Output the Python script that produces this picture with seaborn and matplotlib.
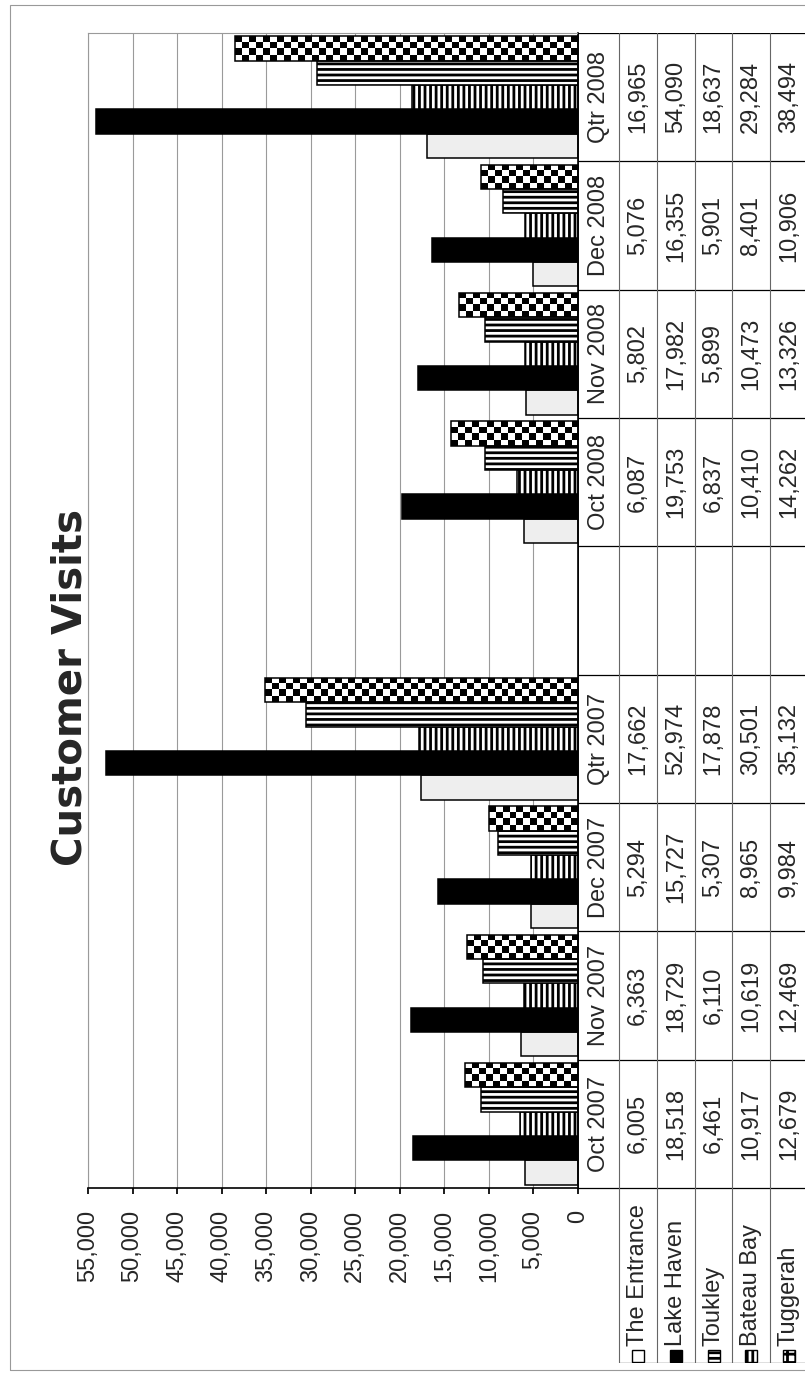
import numpy as np
import pandas as pd
import matplotlib
matplotlib.use("Agg")
import matplotlib.pyplot as plt
import seaborn as sns
from matplotlib.patches import Rectangle

# periods along the category axis (blank slot separates the two years)
periods = ["Oct 2007", "Nov 2007", "Dec 2007", "Qtr 2007", " ",
           "Oct 2008", "Nov 2008", "Dec 2008", "Qtr 2008"]
real_periods = [p for p in periods if p.strip()]

branches = ["The Entrance", "Lake Haven", "Toukley", "Bateau Bay", "Tuggerah"]
the_entrance = [6005, 6363, 5294, 17662, 6087, 5802, 5076, 16965]
lake_haven = [18518, 18729, 15727, 52974, 19753, 17982, 16355, 54090]
toukley = [6461, 6110, 5307, 17878, 6837, 5899, 5901, 18637]
bateau_bay = [10917, 10619, 8965, 30501, 10410, 10473, 8401, 29284]
tuggerah = [12679, 12469, 9984, 35132, 14262, 13326, 10906, 38494]
value_ticks = list(range(0, 55001, 5000))

series = dict(zip(branches, [the_entrance, lake_haven, toukley, bateau_bay, tuggerah]))
df = pd.DataFrame([(p, b, v) for b in branches for p, v in zip(real_periods, series[b])],
                  columns=["period", "branch", "visits"])

sns.set_theme(style="white")
plt.rcParams["font.family"] = ["Liberation Sans", "DejaVu Sans"]
plt.rcParams["hatch.linewidth"] = 2.0

W, H = 805, 1373
fig = plt.figure(figsize=(W / 100, H / 100), dpi=100)

# pixel layout of the (rotated) chart
px_left, px_zero, px_top, px_base, px_tbl_bot = 88, 578, 33, 1188, 1363
ax = fig.add_axes([px_left / W, 1 - px_base / H, (px_zero - px_left) / W, (px_base - px_top) / H])

palette = {"The Entrance": "#eeeeee", "Lake Haven": "black", "Toukley": "white",
           "Bateau Bay": "white", "Tuggerah": "white"}
sns.barplot(data=df, x="visits", y="period", hue="branch", order=periods,
            hue_order=branches, palette=palette, orient="h", width=0.95,
            errorbar=None, edgecolor="black", linewidth=1.1, saturation=1,
            legend=False, ax=ax)

hatches = {"Toukley": "|||", "Bateau Bay": "---"}
for b, cont in zip(branches, ax.containers):
    for bar in cont:
        if b in hatches:
            bar.set_hatch(hatches[b])

# checkerboard fill for Tuggerah, clipped to each bar
cell = 7 * 55000 / (px_zero - px_left)
for bar in ax.containers[4]:
    bar.set_facecolor("none")
    w, y0, h = bar.get_width(), bar.get_y(), bar.get_height()
    nx = max(1, int(round(w / cell)))
    board = np.add.outer(np.arange(4), np.arange(nx)) % 2
    im = ax.imshow(board, cmap="gray", extent=(0, w, y0, y0 + h), aspect="auto",
                   interpolation="nearest", zorder=0.8)
    im.set_clip_path(bar)

ax.set_xlim(55000, 0)
ax.set_ylim(-0.5, len(periods) - 0.5)
ax.set_xticks(value_ticks)
ax.set_xticklabels([f"{v:,}" for v in value_ticks], rotation=90, fontsize=17)
ax.tick_params(axis="x", length=4, pad=12, color="black", bottom=True)
ax.set_yticks([])
ax.set_xlabel("")
ax.set_ylabel("")
ax.set_axisbelow(True)
ax.grid(axis="x", color="#9a9a9a", linewidth=0.8)
for side in ["top", "left"]:
    ax.spines[side].set_color("#9a9a9a")
    ax.spines[side].set_linewidth(0.8)
for side in ["bottom", "right"]:
    ax.spines[side].set_color("black")
    ax.spines[side].set_linewidth(1.2)

# data table to the right of the bars
unit = (px_base - px_top) / len(periods)
y_bot = -0.5 - (px_tbl_bot - px_base) / unit
cols = [0, 41, 79, 117, 154, 192, 230]
tax = fig.add_axes([px_zero / W, 1 - px_tbl_bot / H, cols[-1] / W, (px_tbl_bot - px_top) / H])
tax.set_xlim(0, cols[-1])
tax.set_ylim(y_bot, len(periods) - 0.5)
tax.axis("off")

for k in range(len(periods) + 1):
    tax.plot([0, cols[-1]], [k - 0.5, k - 0.5], color="black", lw=0.9)
tax.plot([cols[1], cols[-1]], [y_bot, y_bot], color="black", lw=0.9)
tax.plot([0, 0], [-0.5, len(periods) - 0.5], color="black", lw=1.2)
for c in cols[1:]:
    tax.plot([c, c], [y_bot, len(periods) - 0.5], color="#666666", lw=0.8)

centers = [(cols[i] + cols[i + 1]) / 2 for i in range(len(cols) - 1)]
for i, p in enumerate(periods):
    if not p.strip():
        continue
    tax.text(centers[0], i, p, rotation=90, ha="center", va="center", fontsize=17)
    r = real_periods.index(p)
    for j, b in enumerate(branches):
        tax.text(centers[j + 1], i, f"{series[b][r]:,}", rotation=90,
                 ha="center", va="center", fontsize=17)

key_hatch = {"Toukley": "---", "Bateau Bay": "|||", "Tuggerah": "++"}
key_h = 12 / unit
for j, b in enumerate(branches):
    cx = centers[j + 1]
    fc = "black" if b == "Lake Haven" else "white"
    tax.add_patch(Rectangle((cx - 6, y_bot + 1.5 / unit), 12, key_h, facecolor=fc,
                            edgecolor="black", lw=1.0, hatch=key_hatch.get(b)))
    tax.text(cx, y_bot + 17 / unit, b, rotation=90, ha="center", va="bottom", fontsize=17)

fig.text(71 / W, 1 - 688 / H, "Customer Visits", rotation=90, ha="center", va="center",
         fontsize=29, fontweight="bold", family="DejaVu Sans")

fig.add_artist(Rectangle((10 / W, 3 / H), 1.0, 1 - 8 / H, transform=fig.transFigure,
                         fill=False, edgecolor="#999999", lw=0.8))

fig.savefig("out.png", dpi=100)
